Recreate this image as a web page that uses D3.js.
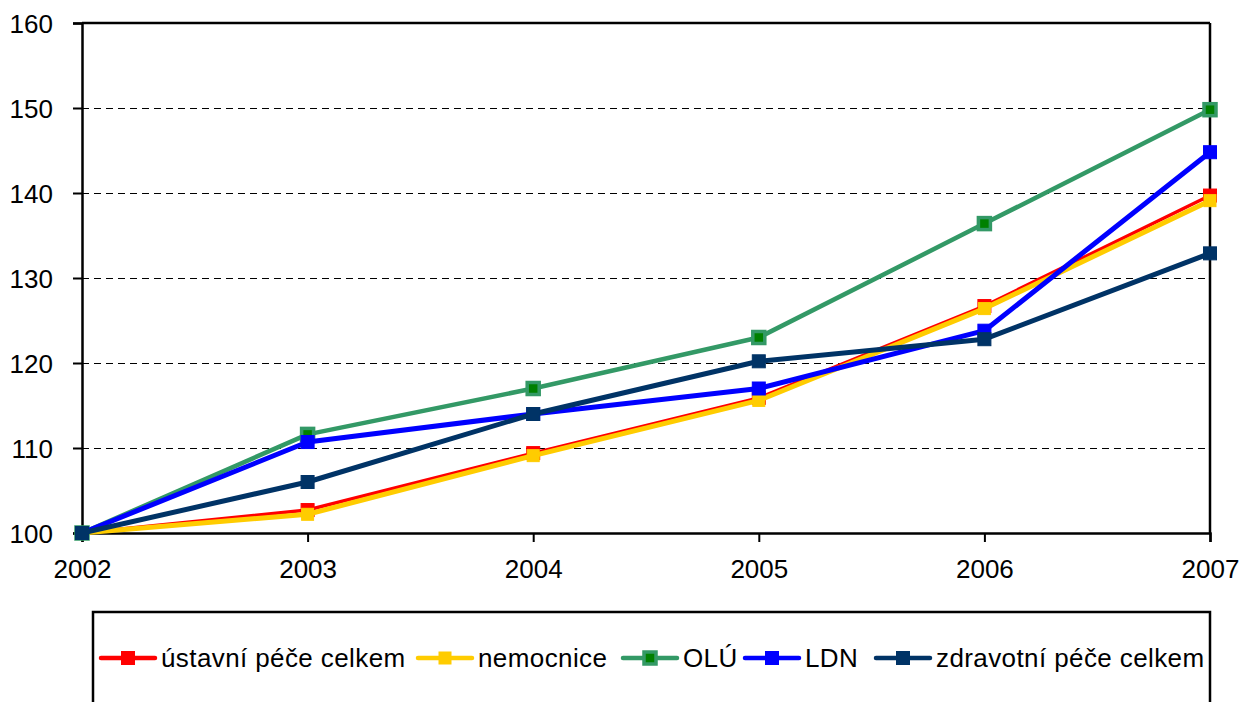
<!DOCTYPE html>
<html>
<head>
<meta charset="utf-8">
<script src="https://cdn.jsdelivr.net/npm/d3@7"></script>
<style>
    body { margin: 0; background: #fff; }
    svg { font-family: "Liberation Sans", Arial, sans-serif; }
</style>
</head>
<body>
<svg id="chart"></svg>
<script>
// data
var years = [2002, 2003, 2004, 2005, 2006, 2007];
var yTicks = [100, 110, 120, 130, 140, 150, 160];
var seriesNames = ["ústavní péče celkem", "nemocnice", "OLÚ", "LDN", "zdravotní péče celkem"];
var ustavni = [100, 102.7, 109.4, 115.9, 126.7, 139.7];
var nemocnice = [100, 102.2, 109.1, 115.6, 126.4, 139.1];
var olu = [100, 111.6, 117.0, 123.0, 136.4, 149.8];
var ldn = [100, 110.7, 114.0, 117.0, 123.8, 144.8];
var zdravotni = [100, 106.0, 114.0, 120.2, 122.8, 132.9];

var dimensions = {
    width: 1243,
    height: 702,
    margin: { top: 23, right: 33, bottom: 169, left: 82 }
};

var styles = [
    { line: "#ff0000", width: 3.5, fill: "#ff0000", stroke: "#ff0000", size: 13 },
    { line: "#ffcc00", width: 5, fill: "#ffcc00", stroke: "#ffcc00", size: 12 },
    { line: "#339966", width: 4.5, fill: "#008000", stroke: "#339966", size: 12 },
    { line: "#0000ff", width: 5, fill: "#0000ff", stroke: "#0000ff", size: 13 },
    { line: "#003366", width: 5, fill: "#003366", stroke: "#003366", size: 13 }
];

var allSeries = [ustavni, nemocnice, olu, ldn, zdravotni].map(function (vals, i) {
    return { name: seriesNames[i], values: vals, style: styles[i] };
});

var svg = d3.select("#chart")
    .attr("width", dimensions.width)
    .attr("height", dimensions.height);

var xScale = d3.scalePoint()
    .domain(years)
    .range([dimensions.margin.left, dimensions.width - dimensions.margin.right]);

var yScale = d3.scaleLinear()
    .domain([100, 160])
    .range([dimensions.height - dimensions.margin.bottom, dimensions.margin.top]);

var x0 = dimensions.margin.left, x1 = dimensions.width - dimensions.margin.right;
var y0 = dimensions.height - dimensions.margin.bottom, y1 = dimensions.margin.top;

// dashed gridlines
svg.append("g")
    .selectAll("line")
    .data(yTicks.filter(function (d) { return d > 100 && d < 160; }))
    .enter()
    .append("line")
    .attr("x1", x0)
    .attr("x2", x1)
    .attr("y1", function (d) { return yScale(d) + 0.5; })
    .attr("y2", function (d) { return yScale(d) + 0.5; })
    .attr("stroke", "#000")
    .attr("stroke-width", 1)
    .attr("stroke-dasharray", "7,5");

// plot frame: top and right
svg.append("line").attr("x1", x0).attr("x2", x1).attr("y1", y1).attr("y2", y1)
    .attr("stroke", "#000").attr("stroke-width", 2.5);
svg.append("line").attr("x1", x1).attr("x2", x1).attr("y1", y1).attr("y2", y0)
    .attr("stroke", "#000").attr("stroke-width", 2.5);

var yAxis = svg.append("g")
    .attr("transform", `translate(${x0}, 0)`)
    .call(d3.axisLeft(yScale).tickValues(yTicks).tickSize(9).tickPadding(20));

var xAxis = svg.append("g")
    .attr("transform", `translate(0, ${y0})`)
    .call(d3.axisBottom(xScale).tickSize(9).tickPadding(18));

[yAxis, xAxis].forEach(function (ax) {
    ax.select(".domain").attr("stroke", "#000").attr("stroke-width", 2.5);
    ax.selectAll(".tick line").attr("stroke", "#000").attr("stroke-width", 2);
    ax.selectAll("text")
        .attr("fill", "#000")
        .style("font-size", "26px")
        .style("font-family", "Liberation Sans, Arial, sans-serif");
});
yAxis.selectAll("text").attr("dy", "0.36em");

var line = d3.line()
    .x(function (d, i) { return xScale(years[i]); })
    .y(function (d) { return yScale(d); });

allSeries.forEach(function (s) {
    var g = svg.append("g");
    g.append("path")
        .attr("d", line(s.values))
        .attr("fill", "none")
        .attr("stroke", s.style.line)
        .attr("stroke-width", s.style.width)
        .attr("stroke-linejoin", "round");
    g.selectAll("rect")
        .data(s.values)
        .enter()
        .append("rect")
        .attr("x", function (d, i) { return xScale(years[i]) - s.style.size / 2; })
        .attr("y", function (d) { return yScale(d) - s.style.size / 2; })
        .attr("width", s.style.size)
        .attr("height", s.style.size)
        .attr("fill", s.style.fill)
        .attr("stroke", s.style.stroke)
        .attr("stroke-width", s.style === styles[2] ? 3.5 : 1);
});

// legend
var legendY = 658;
svg.append("rect")
    .attr("x", 93)
    .attr("y", 612)
    .attr("width", 1117)
    .attr("height", 110)
    .attr("fill", "none")
    .attr("stroke", "#000")
    .attr("stroke-width", 2.5);

var legendX = [101, 418, 623, 745, 876];
allSeries.forEach(function (s, i) {
    var g = svg.append("g").attr("transform", `translate(${legendX[i]}, ${legendY})`);
    g.append("line")
        .attr("x1", 0).attr("x2", 54)
        .attr("y1", 0).attr("y2", 0)
        .attr("stroke", s.style.line)
        .attr("stroke-width", 4.5)
        .attr("stroke-linecap", "round");
    g.append("rect")
        .attr("x", 27 - s.style.size / 2)
        .attr("y", -s.style.size / 2)
        .attr("width", s.style.size)
        .attr("height", s.style.size)
        .attr("fill", s.style.fill)
        .attr("stroke", s.style.stroke)
        .attr("stroke-width", i === 2 ? 3.5 : 1);
    g.append("text")
        .attr("x", 60)
        .attr("y", 0)
        .attr("dy", "0.36em")
        .style("font-size", "26px")
        .style("letter-spacing", "0.4px")
        .attr("fill", "#000")
        .text(s.name);
});
</script>
</body>
</html>
